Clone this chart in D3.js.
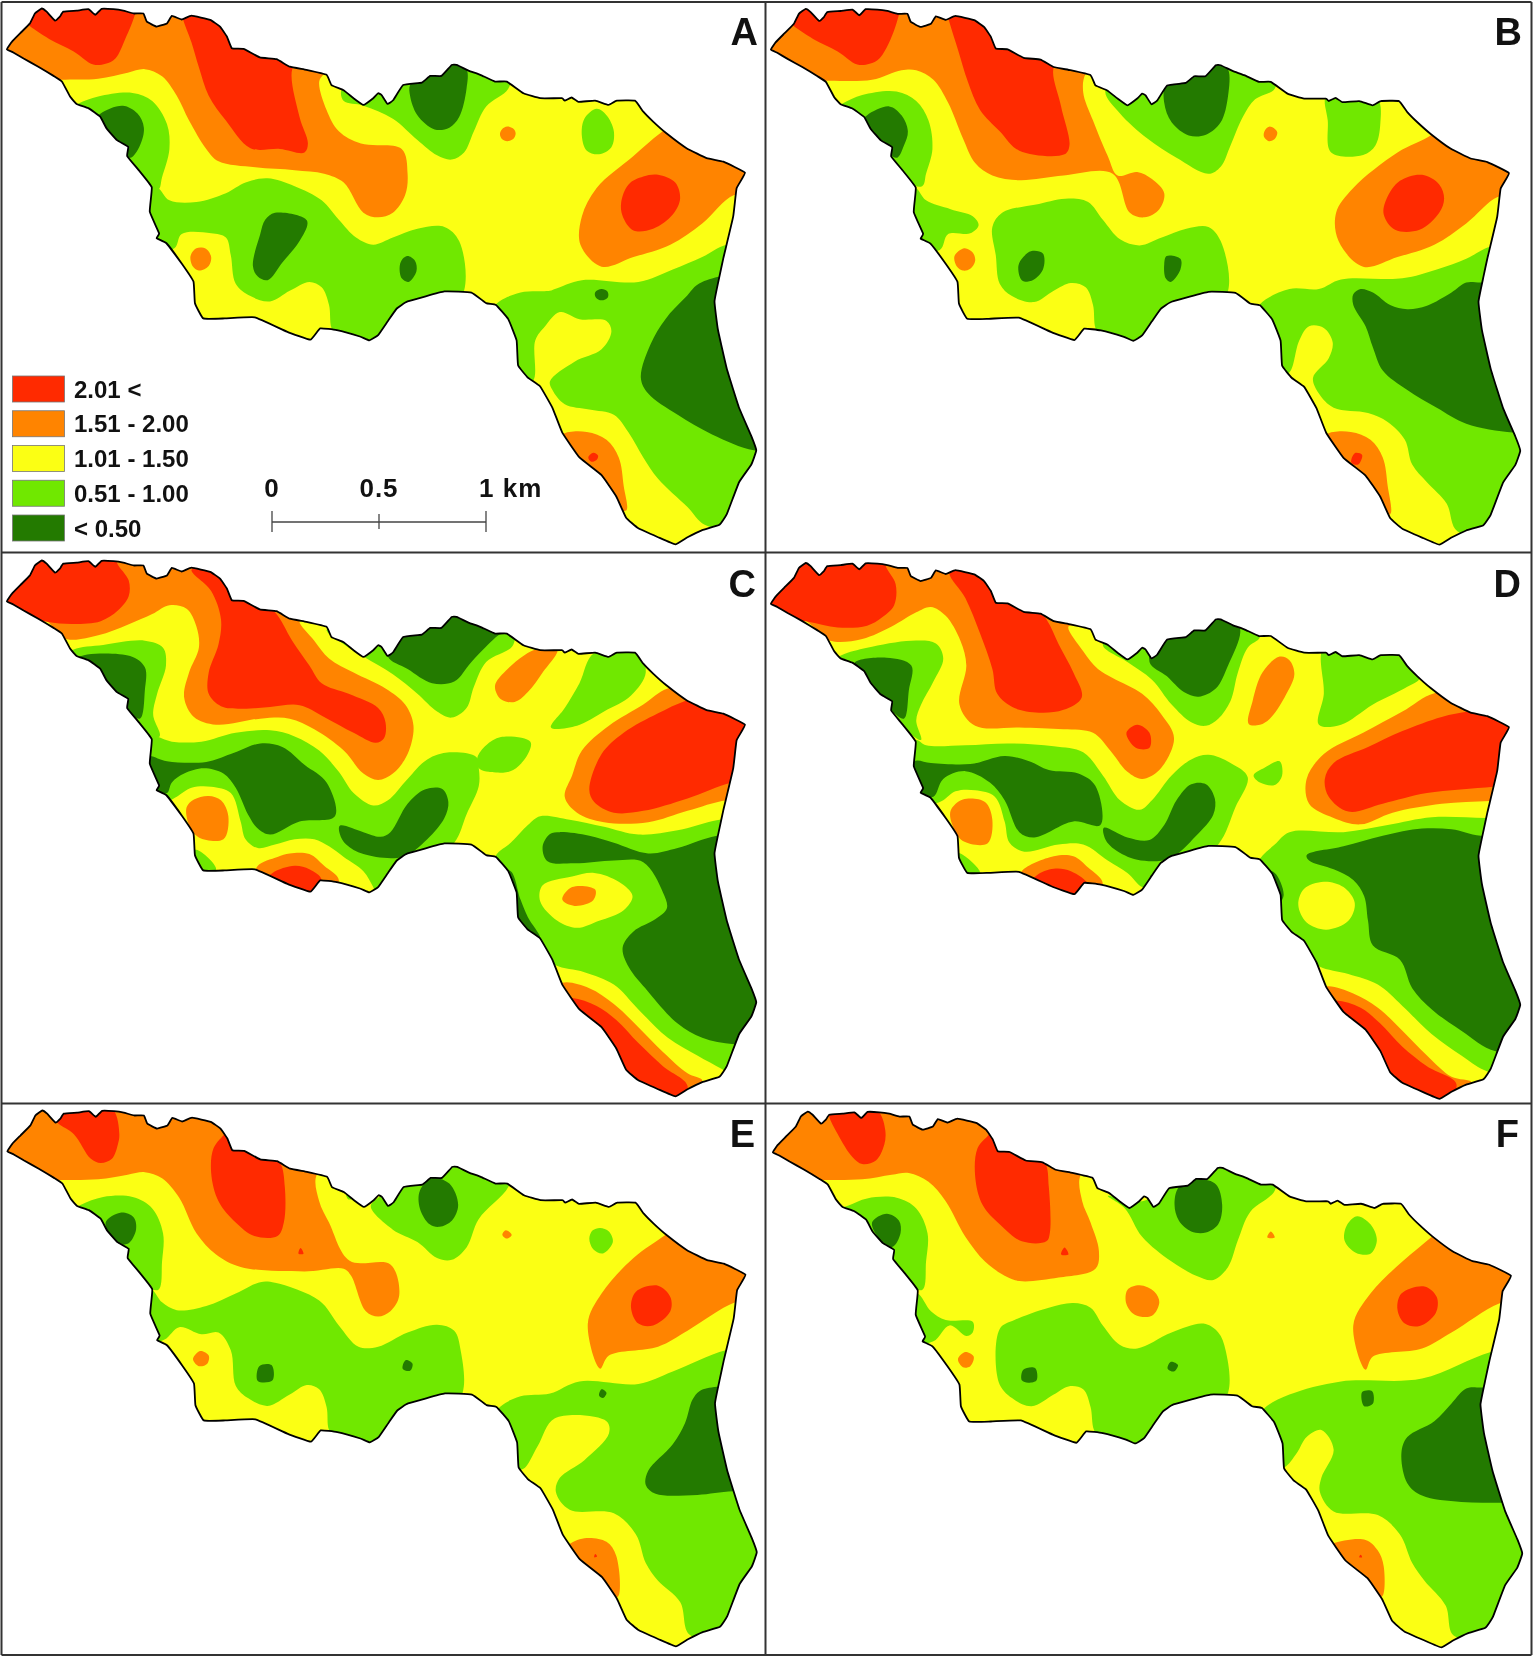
<!DOCTYPE html>
<html><head><meta charset="utf-8">
<script src="https://cdn.jsdelivr.net/npm/d3@7"></script>
<style>html,body{margin:0;padding:0;background:#fff}svg{display:block;filter:blur(.4px)}text{font-family:"Liberation Sans",Arial,sans-serif;font-weight:bold;fill:#111}</style>
</head><body><div id="c"></div>
<script>
const classLabels=["2.01 <","1.51 - 2.00","1.01 - 1.50","0.51 - 1.00","< 0.50"];
const classColors=["#ff2a00","#ff8400","#fbff14","#70e800","#237a00"];
const scaleTicks=[0,0.5,1];
const scaleTickLabels=["0","0.5","1 km"];
const panelLabels=["A","B","C","D","E","F"];
const panelLabelX=[758,758,756,757,755,755];

const outline=[[14,139],[24,118],[41,94],[61,66],[71,38],[85,24],[95,33],[112,58],[122,47],[129,33],[156,30],[180,26],[194,42],[207,25],[231,26],[251,30],[272,38],[292,38],[299,61],[319,75],[340,66],[350,45],[370,55],[390,44],[428,56],[448,75],[462,103],[472,136],[496,138],[529,162],[563,167],[590,188],[624,197],[665,211],[675,240],[699,254],[720,277],[740,296],[760,277],[770,263],[777,268],[789,293],[801,282],[821,240],[859,233],[876,214],[899,214],[920,183],[930,183],[954,199],[978,211],[1008,230],[1032,230],[1066,263],[1100,277],[1144,277],[1150,284],[1164,275],[1178,287],[1212,284],[1239,296],[1256,284],[1293,284],[1310,315],[1330,343],[1357,376],[1398,418],[1439,446],[1473,456],[1517,487],[1500,531],[1493,611],[1473,728],[1465,780],[1455,850],[1462,930],[1480,1040],[1505,1150],[1530,1230],[1540,1270],[1530,1310],[1505,1360],[1480,1450],[1465,1480],[1430,1495],[1400,1515],[1375,1535],[1340,1515],[1300,1490],[1275,1460],[1255,1400],[1225,1340],[1180,1290],[1145,1220],[1125,1150],[1100,1090],[1075,1065],[1055,1030],[1052,960],[1035,900],[1010,860],[990,855],[960,825],[905,822],[830,850],[808,870],[790,905],[770,945],[752,960],[733,949],[686,931],[652,926],[632,958],[584,935],[519,895],[458,898],[414,898],[397,855],[394,794],[370,743],[339,686],[319,672],[324,658],[305,597],[309,528],[282,479],[259,440],[261,414],[238,395],[217,362],[204,329],[180,305],[156,293],[143,273],[126,230],[109,214],[78,188],[48,165],[27,148]];

const A_orange=[
[[-10,140],[60,-10],[700,150],[660,208],[650,230],[665,310],[690,370],[735,405],[818,420],[830,490],[825,550],[800,600],[770,613],[740,600],[700,515],[660,490],[600,480],[520,472],[445,455],[420,420],[385,340],[360,270],[330,215],[295,195],[260,205],[200,222],[125,225],[90,230],[20,170]],
[[1345,375],[1290,440],[1215,530],[1185,610],[1182,690],[1225,752],[1290,725],[1365,690],[1430,630],[1495,550],[1550,550],[1550,470],[1400,330]],
[[1033,357],[1047,365],[1050,378],[1045,392],[1033,398],[1022,392],[1018,378],[1022,365]],
[[400,700],[420,702],[430,725],[425,750],[405,763],[392,750],[388,722]],
[[1145,1225],[1195,1218],[1235,1240],[1260,1290],[1270,1370],[1275,1440],[1240,1420],[1180,1330],[1130,1260]]];
const A_red=[
[[55,68],[100,110],[150,145],[190,182],[215,180],[235,165],[255,110],[275,40],[280,0],[70,0],[40,50]],
[[372,50],[390,120],[405,190],[425,270],[460,340],[510,418],[570,420],[620,430],[627,405],[610,330],[595,195],[620,150],[440,30],[370,20]],
[[1340,493],[1375,515],[1385,560],[1370,605],[1330,645],[1290,650],[1268,610],[1265,570],[1280,520],[1310,498]],
[[1208,1277],[1218,1285],[1214,1298],[1204,1302],[1198,1290]]];
const A_green=[
[[695,255],[700,285],[740,298],[800,335],[850,395],[890,438],[920,450],[945,430],[965,370],[990,300],[1035,250],[1040,190],[900,150],[720,220]],
[[1215,307],[1235,325],[1250,370],[1245,415],[1220,435],[1195,425],[1185,385],[1190,335]],
[[160,292],[200,272],[270,262],[310,285],[340,350],[345,420],[330,500],[322,535],[270,500],[190,380],[140,310]],
[[320,530],[345,565],[400,570],[460,545],[500,515],[545,503],[600,525],[655,565],[690,620],[725,670],[760,690],[800,670],[850,645],[905,640],[935,680],[945,820],[900,900],[770,985],[740,990],[690,960],[675,925],[670,860],[655,810],[630,795],[590,820],[550,850],[510,835],[480,800],[470,720],[460,670],[430,658],[370,660],[355,700],[300,700],[290,560]],
[[1010,858],[1060,825],[1120,820],[1130,815],[1185,790],[1300,795],[1370,760],[1430,725],[1480,690],[1560,690],[1560,1300],[1500,1490],[1435,1480],[1400,1430],[1340,1350],[1310,1290],[1280,1220],[1250,1170],[1200,1155],[1150,1140],[1125,1100],[1120,1075],[1170,1020],[1225,985],[1245,935],[1235,905],[1180,900],[1140,880],[1110,920],[1090,960],[1085,1075],[1050,1080],[1000,900]]];
const A_dark=[
[[835,240],[835,270],[850,325],[885,365],[915,360],[935,330],[950,250],[950,195],[925,170],[860,200]],
[[205,320],[250,298],[280,320],[293,360],[285,410],[265,445],[240,420],[195,340]],
[[560,600],[625,622],[610,680],[575,740],[545,790],[525,780],[515,750],[530,660],[540,620]],
[[830,722],[845,735],[848,765],[832,795],[818,785],[814,750],[820,730]],
[[1430,795],[1395,840],[1355,900],[1325,970],[1305,1065],[1320,1110],[1380,1170],[1450,1225],[1535,1270],[1600,1270],[1600,790]],
[[1225,815],[1237,822],[1238,838],[1225,847],[1213,838],[1212,824]]];

const B_orange=[
[[-10,140],[60,-10],[700,150],[655,208],[650,260],[670,340],[700,440],[720,495],[760,485],[790,505],[815,545],[805,590],[775,613],[745,600],[710,490],[610,495],[520,508],[465,495],[430,460],[405,390],[375,290],[345,225],[310,198],[280,198],[220,225],[125,228],[90,230],[20,170]],
[[1360,380],[1290,430],[1200,530],[1165,600],[1170,680],[1220,752],[1290,725],[1365,690],[1430,630],[1495,555],[1550,550],[1550,470],[1400,330]],
[[1030,357],[1045,372],[1040,392],[1028,398],[1018,385],[1020,368]],
[[408,700],[425,712],[430,735],[420,758],[405,763],[392,750],[388,722]],
[[1145,1225],[1195,1218],[1235,1240],[1260,1290],[1270,1370],[1275,1450],[1240,1420],[1180,1330],[1130,1260]]];
const B_red=[
[[55,68],[100,110],[150,145],[190,182],[215,180],[235,165],[258,110],[275,40],[280,0],[70,0],[40,50]],
[[375,50],[395,140],[415,230],[440,310],[480,370],[520,425],[612,435],[622,410],[605,300],[590,190],[620,150],[440,30],[370,20]],
[[1340,493],[1375,520],[1385,560],[1375,600],[1335,648],[1285,648],[1262,605],[1268,560],[1295,510]],
[[1203,1278],[1218,1283],[1210,1310],[1196,1304]]];
const B_green=[
[[695,258],[725,320],[780,390],[840,445],[905,490],[930,470],[950,410],[975,330],[1000,280],[1040,250],[1040,190],[900,150],[720,220]],
[[1145,270],[1148,340],[1155,430],[1220,437],[1245,410],[1255,350],[1250,280],[1200,260]],
[[160,292],[200,268],[270,258],[310,285],[335,340],[343,420],[330,490],[322,525],[270,500],[190,380],[140,310]],
[[308,530],[330,565],[380,590],[425,610],[437,635],[420,658],[375,660],[358,705],[300,700],[290,560]],
[[465,640],[485,600],[560,575],[620,560],[660,570],[690,620],[725,675],[765,692],[810,670],[860,645],[905,640],[930,680],[945,820],[900,900],[770,985],[740,990],[690,960],[675,925],[670,860],[655,810],[625,798],[590,820],[550,852],[505,835],[480,800],[472,720]],
[[1010,858],[1070,815],[1130,815],[1175,788],[1300,785],[1370,760],[1430,730],[1480,695],[1560,690],[1560,1300],[1500,1500],[1412,1498],[1390,1420],[1350,1360],[1320,1310],[1305,1240],[1270,1190],[1230,1165],[1160,1150],[1130,1110],[1118,1065],[1150,1010],[1158,965],[1140,925],[1110,920],[1090,960],[1070,1050],[1050,1060],[1000,900]]];
const B_dark=[
[[818,240],[815,290],[830,345],[865,382],[900,380],[930,345],[945,270],[945,195],[925,170],[860,200]],
[[210,325],[255,300],[280,325],[293,370],[285,410],[270,445],[240,410],[200,345]],
[[545,708],[568,715],[568,760],[545,792],[525,790],[518,750],[528,725]],
[[820,722],[848,730],[848,760],[828,795],[818,785],[815,745]],
[[1215,815],[1240,825],[1275,860],[1310,872],[1350,862],[1400,825],[1430,797],[1460,797],[1600,800],[1600,1220],[1525,1220],[1430,1195],[1370,1150],[1310,1100],[1260,1045],[1240,980],[1225,920],[1200,860],[1200,830]]];

const C_orange=[
[[135,245],[200,235],[260,205],[310,175],[345,150],[380,160],[400,210],[405,270],[385,340],[375,410],[395,465],[440,487],[530,470],[590,470],[640,500],[700,560],[740,625],[770,643],[800,625],[830,570],[842,490],[825,430],[785,385],[720,340],[670,300],[640,250],[610,195],[660,205],[560,110],[400,20],[230,0],[60,150],[100,200]],
[[1090,275],[1135,275],[1105,340],[1075,395],[1048,423],[1020,415],[1008,378],[1030,335]],
[[1360,385],[1310,430],[1240,490],[1185,560],[1165,630],[1150,690],[1175,735],[1230,762],[1320,762],[1400,730],[1480,700],[1560,700],[1560,470],[1450,380]],
[[1145,1215],[1200,1230],[1250,1275],[1300,1340],[1350,1410],[1400,1470],[1430,1490],[1410,1520],[1380,1560],[1250,1450],[1120,1250]],
[[425,688],[450,700],[465,745],[455,810],[405,805],[385,770],[380,720],[395,698]],
[[525,885],[565,860],[590,850],[630,852],[660,885],[690,925],[660,990],[630,990],[520,925]]];
const C_red=[
[[-10,135],[70,-10],[235,0],[238,30],[262,80],[262,125],[240,165],[205,195],[150,203],[95,197],[20,170]],
[[390,50],[430,110],[450,190],[445,260],[425,340],[425,400],[450,435],[490,442],[550,437],[610,432],[660,465],[720,510],[765,538],[782,525],[785,480],[770,440],[710,400],[655,370],[630,320],[595,250],[560,170],[520,130],[450,40]],
[[1395,420],[1340,455],[1270,510],[1225,570],[1200,670],[1210,705],[1250,735],[1310,730],[1400,695],[1490,650],[1560,640],[1560,470],[1450,400]],
[[1165,1258],[1215,1280],[1255,1320],[1300,1385],[1350,1450],[1400,1505],[1380,1560],[1250,1450],[1130,1260]],
[[555,905],[600,885],[630,895],[655,925],[630,990],[540,930]]];
const C_green=[
[[150,275],[210,262],[295,250],[332,270],[338,320],[320,400],[312,460],[325,520],[270,500],[190,380],[130,300]],
[[665,220],[700,260],[740,295],[800,345],[850,400],[890,450],[920,467],[950,440],[965,380],[990,310],[1045,262],[1040,190],[900,150],[720,210]],
[[1210,285],[1300,285],[1315,340],[1285,405],[1230,450],[1175,490],[1122,495],[1150,440],[1180,370]],
[[1020,522],[1080,535],[1075,570],[1045,615],[1010,622],[975,610],[972,580],[990,545]],
[[1010,855],[1040,820],[1075,770],[1100,745],[1160,755],[1230,775],[1300,797],[1380,785],[1465,755],[1560,750],[1560,1400],[1500,1480],[1470,1458],[1420,1420],[1360,1370],[1300,1290],[1250,1220],[1190,1185],[1130,1165],[1090,1120],[1000,900]],
[[308,520],[350,535],[410,535],[480,510],[550,503],[600,520],[650,560],[690,620],[720,680],[760,715],[790,700],[830,640],[870,585],[915,565],[970,578],[975,610],[975,660],[950,740],[925,820],[850,900],[770,975],[760,945],[740,900],[700,860],[670,830],[640,810],[600,810],[560,825],[525,835],[500,810],[490,760],[470,680],[430,662],[390,665],[360,690],[345,700],[300,700],[280,560]],
[[400,840],[440,895],[400,910],[380,850]]];
const C_dark=[
[[790,295],[830,330],[880,370],[925,365],[960,310],[1015,235],[1030,225],[960,170],[920,170],[810,220]],
[[160,298],[265,293],[295,325],[295,390],[285,470],[255,440],[200,350]],
[[1105,830],[1120,795],[1140,790],[1200,800],[1250,820],[1320,850],[1380,835],[1460,800],[1600,790],[1600,1380],[1495,1388],[1430,1370],[1380,1330],[1320,1240],[1280,1170],[1268,1115],[1290,1070],[1335,1035],[1358,1005],[1350,960],[1310,875],[1250,870],[1170,878],[1115,872]],
[[1040,900],[1060,980],[1075,1030],[1100,1090],[1080,1090],[1030,1000],[1020,900]],
[[305,575],[340,590],[420,592],[470,570],[530,540],[575,550],[620,600],[665,650],[682,745],[610,760],[550,797],[525,780],[505,740],[480,665],[455,625],[415,610],[375,625],[350,650],[340,680],[320,672],[280,650],[280,580]],
[[692,772],[740,790],[775,803],[795,790],[830,710],[865,670],[900,668],[913,705],[905,750],[870,810],[820,860],[740,852],[705,825],[692,795]]];
const C_yellow=[[[1165,915],[1210,905],[1260,930],[1288,970],[1270,1010],[1220,1040],[1175,1060],[1135,1040],[1100,985],[1105,940]]];
const C_orangeTop=[[[1165,945],[1212,952],[1208,982],[1170,998],[1145,980]]];

const D_orange=[
[[135,250],[200,245],[260,210],[310,170],[340,155],[370,180],[400,250],[412,320],[398,430],[430,490],[520,495],[610,500],[670,510],[705,560],[740,620],[770,640],[805,615],[835,525],[810,460],[770,400],[710,355],[680,330],[650,280],[620,210],[660,210],[560,110],[400,20],[230,0],[60,150],[100,210]],
[[1050,295],[1070,305],[1080,345],[1060,410],[1030,470],[1010,487],[987,485],[995,420],[1015,340]],
[[1365,398],[1300,450],[1220,510],[1140,570],[1105,640],[1110,710],[1160,750],[1215,768],[1280,735],[1380,710],[1478,702],[1560,700],[1560,470],[1450,400]],
[[1145,1225],[1200,1245],[1250,1285],[1300,1350],[1350,1420],[1400,1480],[1440,1495],[1410,1530],[1380,1570],[1250,1450],[1120,1250]],
[[405,698],[450,705],[465,755],[455,822],[405,815],[385,775],[380,730]],
[[525,900],[590,858],[630,858],[660,890],[690,935],[660,1000],[630,1000],[520,935]]];
const D_red=[
[[-10,145],[70,-10],[245,10],[248,40],[268,90],[265,150],[240,185],[210,208],[150,213],[90,197],[20,180]],
[[378,55],[410,130],[440,230],[465,330],[475,400],[510,440],[560,453],[610,445],[647,410],[630,340],[600,260],[575,190],[530,120],[450,40]],
[[760,487],[785,510],[785,552],[757,552],[738,510]],
[[1435,450],[1380,465],[1300,505],[1230,550],[1160,595],[1142,640],[1150,690],[1190,732],[1260,710],[1350,680],[1485,662],[1560,650],[1560,470],[1500,440]],
[[1165,1265],[1215,1285],[1255,1330],[1300,1395],[1350,1450],[1410,1500],[1380,1570],[1250,1450],[1130,1270]],
[[555,912],[590,893],[625,900],[660,940],[630,1000],[540,945]]];
const D_green=[
[[690,262],[740,310],[790,360],[830,430],[870,480],[900,490],[925,470],[950,420],[965,340],[985,270],[1010,240],[1000,190],[900,150],[720,220]],
[[1140,270],[1140,400],[1130,487],[1175,487],[1240,430],[1310,380],[1335,355],[1300,280],[1220,270]],
[[1010,865],[1040,825],[1070,790],[1180,790],[1270,770],[1360,748],[1470,750],[1560,750],[1560,1400],[1500,1470],[1465,1460],[1420,1420],[1360,1360],[1300,1280],[1250,1220],[1190,1190],[1130,1168],[1090,1120],[1000,900]],
[[1050,590],[1055,630],[1040,657],[1010,650],[997,630],[1020,608]],
[[160,290],[210,270],[300,250],[350,258],[365,300],[345,365],[320,430],[310,475],[320,530],[270,480],[190,390],[140,310]],
[[310,530],[330,545],[410,545],[500,540],[590,548],[650,565],[690,630],[725,700],[765,727],[790,700],[830,630],[870,585],[905,572],[950,595],[985,635],[960,720],[925,825],[850,900],[780,945],[770,945],[740,905],[700,870],[650,825],[600,825],[530,845],[500,820],[490,760],[470,690],[430,672],[390,675],[365,700],[345,710],[300,700],[280,560]],
[[400,850],[440,905],[400,915],[385,850]]];
const D_dark=[
[[785,310],[820,350],[855,395],[885,408],[920,385],[945,320],[970,225],[960,180],[920,170],[810,220]],
[[1105,855],[1180,830],[1260,800],[1340,780],[1400,782],[1460,800],[1600,790],[1600,1400],[1490,1408],[1420,1350],[1360,1290],[1320,1230],[1295,1150],[1240,1110],[1230,1040],[1222,970],[1200,925],[1160,895],[1110,870]],
[[1040,905],[1058,970],[1040,1000],[1020,900]],
[[185,312],[250,298],[300,320],[295,390],[285,470],[262,450],[240,410],[200,340]],
[[305,590],[340,595],[420,598],[490,575],[540,590],[580,615],[640,625],[675,660],[685,770],[630,760],[550,805],[520,790],[490,700],[460,650],[410,618],[365,640],[345,690],[320,682],[280,650]],
[[692,778],[740,805],[785,812],[815,770],[840,700],[870,655],[900,655],[918,695],[915,740],[880,800],[825,865],[760,868],[715,840],[695,810]]];
const D_yellow=[[[1140,930],[1180,945],[1203,990],[1190,1040],[1145,1065],[1105,1045],[1088,995],[1100,950]]];

const E_orange=[
[[125,220],[200,218],[260,205],[295,198],[330,215],[365,270],[400,370],[440,430],[490,465],[620,478],[700,470],[715,490],[745,590],[770,605],[795,590],[813,545],[795,458],[712,448],[670,340],[650,280],[645,205],[700,150],[400,0],[60,-10],[-10,140],[60,180],[100,220]],
[[1355,375],[1290,440],[1225,540],[1197,625],[1222,752],[1240,715],[1340,690],[1400,645],[1497,565],[1560,550],[1550,470],[1400,330]],
[[1030,362],[1042,375],[1032,385],[1023,375]],
[[408,702],[425,715],[422,738],[405,745],[393,725]],
[[1155,1250],[1190,1230],[1235,1240],[1255,1280],[1258,1395],[1230,1370],[1180,1310],[1140,1270]]];
const E_red=[
[[90,15],[118,60],[150,90],[185,160],[205,172],[228,160],[240,120],[243,90],[232,25],[200,0],[95,0]],
[[460,85],[435,130],[430,200],[445,280],[480,340],[518,378],[565,378],[578,340],[580,240],[570,170],[530,120],[470,60]],
[[612,412],[618,428],[608,428]],
[[1340,518],[1365,550],[1365,590],[1330,630],[1300,625],[1285,580],[1295,535]],
[[1212,1275],[1216,1282],[1210,1284]]];
const E_green=[
[[165,290],[210,268],[270,268],[310,300],[332,370],[330,450],[322,530],[270,490],[190,380],[140,310]],
[[755,295],[800,360],[850,395],[890,440],[920,445],[950,410],[975,330],[1035,240],[1040,190],[900,160],[820,230],[770,270]],
[[705,262],[720,270],[710,275]],
[[1222,355],[1240,365],[1248,395],[1228,427],[1208,415],[1200,385],[1207,362]],
[[308,530],[330,565],[360,587],[420,575],[480,540],[530,508],[560,510],[650,560],[690,630],[730,690],[770,690],[830,650],[890,628],[925,645],[938,700],[942,820],[900,900],[770,985],[740,990],[690,960],[670,925],[665,860],[650,810],[625,798],[590,825],[545,857],[505,835],[480,800],[470,700],[445,650],[410,655],[365,635],[335,670],[300,680],[285,560]],
[[1018,860],[1060,830],[1120,822],[1180,788],[1300,795],[1370,760],[1478,700],[1560,690],[1560,1300],[1500,1500],[1405,1503],[1385,1410],[1340,1350],[1315,1300],[1295,1220],[1250,1160],[1160,1150],[1132,1100],[1140,1060],[1190,1010],[1240,935],[1235,900],[1130,892],[1095,970],[1065,1035],[1040,1030],[1000,900]]];
const E_dark=[
[[215,340],[245,312],[272,325],[277,360],[260,400],[235,395]],
[[880,215],[915,230],[933,290],[920,335],[895,352],[875,345],[855,300],[855,250]],
[[528,745],[553,742],[555,785],[525,787]],
[[826,728],[840,738],[835,758],[820,752]],
[[1425,815],[1460,803],[1600,800],[1600,1100],[1493,1098],[1420,1108],[1335,1105],[1315,1080],[1320,1040],[1370,965],[1395,905],[1410,840]],
[[1225,810],[1235,820],[1228,835],[1220,828]]];

const F_orange=[
[[125,220],[200,218],[260,205],[295,200],[335,225],[370,280],[410,380],[450,450],[490,490],[520,505],[600,495],[675,470],[682,420],[665,340],[648,280],[645,205],[700,150],[400,0],[60,-10],[-10,140],[60,180],[100,220]],
[[1360,380],[1300,450],[1235,540],[1200,630],[1225,755],[1240,718],[1340,695],[1400,650],[1497,568],[1560,550],[1550,470],[1400,330]],
[[765,517],[795,535],[805,565],[790,603],[755,600],[738,570],[740,530]],
[[1032,365],[1040,382],[1025,382]],
[[410,705],[427,718],[420,745],[405,748],[395,725]],
[[1158,1245],[1225,1235],[1250,1265],[1262,1310],[1258,1395],[1225,1360],[1180,1310],[1140,1260]]];
const F_red=[
[[132,38],[150,90],[180,155],[200,175],[228,165],[245,120],[247,80],[235,30],[200,0],[130,0]],
[[462,85],[435,130],[430,210],[445,290],[480,345],[525,393],[575,393],[582,370],[580,240],[572,170],[530,120],[470,60]],
[[612,410],[620,430],[605,430]],
[[1345,520],[1370,550],[1368,595],[1335,632],[1305,625],[1290,585],[1298,540]],
[[1215,1277],[1218,1284],[1212,1284]]];
const F_green=[
[[172,292],[210,272],[270,270],[310,300],[333,370],[330,450],[322,530],[270,490],[190,380],[140,310]],
[[700,265],[735,300],[770,380],[830,450],[880,490],[915,502],[945,465],[965,390],[990,310],[1040,250],[1040,190],[920,170],[830,230],[770,280],[720,270]],
[[1208,322],[1235,345],[1248,390],[1235,428],[1205,425],[1182,390],[1188,345]],
[[312,540],[340,590],[370,615],[425,620],[425,650],[412,660],[378,630],[345,675],[300,680],[290,560]],
[[480,640],[510,615],[580,580],[630,567],[665,580],[690,630],[725,685],[760,695],[830,650],[895,625],[925,650],[940,700],[945,820],[900,900],[770,985],[740,990],[690,960],[672,925],[665,860],[650,810],[620,802],[590,825],[545,858],[505,835],[478,790]],
[[1020,862],[1070,825],[1175,788],[1340,780],[1480,705],[1560,690],[1560,1300],[1500,1500],[1405,1505],[1388,1420],[1345,1350],[1320,1300],[1295,1220],[1250,1165],[1160,1155],[1132,1100],[1135,1060],[1160,980],[1135,925],[1105,945],[1085,990],[1060,1030],[1040,1030],[1000,900]]];
const F_dark=[
[[220,340],[250,315],[275,335],[278,370],[262,408],[240,395]],
[[885,218],[920,232],[933,290],[925,345],[900,368],[870,365],[845,335],[836,290],[845,240]],
[[528,755],[552,750],[555,785],[538,792],[525,785]],
[[828,733],[843,742],[835,760],[822,752]],
[[1465,805],[1430,808],[1400,850],[1365,900],[1310,945],[1298,990],[1310,1075],[1340,1110],[1420,1128],[1503,1130],[1600,1130],[1600,800]],
[[1218,818],[1238,815],[1240,850],[1222,858]]];

const panelLayers=[
 [[1,A_orange],[0,A_red],[3,A_green],[4,A_dark]],
 [[1,B_orange],[0,B_red],[3,B_green],[4,B_dark]],
 [[1,C_orange],[0,C_red],[3,C_green],[4,C_dark],[2,C_yellow],[1,C_orangeTop]],
 [[1,D_orange],[0,D_red],[3,D_green],[4,D_dark],[2,D_yellow]],
 [[1,E_orange],[0,E_red],[3,E_green],[4,E_dark]],
 [[1,F_orange],[0,F_red],[3,F_green],[4,F_dark]]];
const outlineShift=[[0,0],[0,1],[0,0],[0,7],[1,0],[4,3]];

const W=1533,H=1658;
const svg=d3.select("#c").append("svg").attr("width",W).attr("height",H);
const colX=d3.scaleOrdinal().domain([0,1]).range([0,764]);
const rowY=d3.scaleOrdinal().domain([0,1,2]).range([0,552,1102]);
const x=d3.scaleLinear().domain([0,1568]).range([0,770]);
const y=d3.scaleLinear().domain([0,1568]).range([0,556]);
const smooth=d3.line().x(d=>x(d[0])).y(d=>y(d[1])).curve(d3.curveCatmullRomClosed.alpha(0.5));
const coast=d3.line().x(d=>x(d[0])).y(d=>y(d[1])).curve(d3.curveCardinalClosed.tension(0.7));

panelLabels.forEach((lab,i)=>{
  const g=svg.append("g").attr("transform",`translate(${colX(i%2)},${rowY(Math.floor(i/2))})`);
  const [sx,sy]=outlineShift[i];
  const moved=outline.map(p=>[p[0]+sx,p[1]+sy]);
  g.append("clipPath").attr("id","clip"+lab).append("path").attr("d",coast(moved));
  const m=g.append("g").attr("clip-path",`url(#clip${lab})`);
  m.append("path").attr("d",coast(moved)).attr("fill",classColors[2]);
  panelLayers[i].forEach(([cls,polys])=>{
    m.selectAll(null).data(polys).join("path").attr("d",smooth).attr("fill",classColors[cls]);
  });
  g.append("path").attr("d",coast(moved)).attr("fill","none").attr("stroke","#000").attr("stroke-width",1.8).attr("stroke-linejoin","round");
  g.append("text").attr("x",panelLabelX[i]).attr("y",45).attr("text-anchor","end").attr("font-size",38).text(lab);
});

// frame
[[1.5,2,1531.5,2],[1.5,552.5,1531.5,552.5],[1.5,1103.5,1531.5,1103.5],[1.5,1655,1531.5,1655],[1.5,2,1.5,1655],[765.5,2,765.5,1655],[1531.5,2,1531.5,1655]].forEach(l=>{
  svg.append("line").attr("x1",l[0]).attr("y1",l[1]).attr("x2",l[2]).attr("y2",l[3]).attr("stroke","#333").attr("stroke-width",2);
});

// legend
const legY=d3.scalePoint().domain(classLabels).range([376,515]);
const leg=svg.append("g");
leg.selectAll("rect").data(classLabels).join("rect").attr("x",12.5).attr("y",d=>legY(d)).attr("width",52).attr("height",26)
  .attr("fill",(d,i)=>classColors[i]).attr("stroke","#777").attr("stroke-width",.8);
leg.selectAll("text").data(classLabels).join("text").attr("x",74).attr("y",d=>legY(d)+21.5).attr("font-size",24).text(d=>d);

// scale bar
const km=d3.scaleLinear().domain([0,1]).range([272,486]);
const sb=svg.append("g");
sb.append("line").attr("x1",km(0)).attr("x2",km(1)).attr("y1",522).attr("y2",522).attr("stroke","#444").attr("stroke-width",1.3);
sb.selectAll("line.t").data(scaleTicks).join("line").attr("class","t").attr("x1",d=>km(d)).attr("x2",d=>km(d))
  .attr("y1",d=>d===0.5?514:511).attr("y2",d=>d===0.5?529:532).attr("stroke","#444").attr("stroke-width",1.3);
sb.selectAll("text").data(scaleTicks).join("text").attr("x",(d,i)=>i===2?km(d)-7:km(d)).attr("y",497)
  .attr("text-anchor",(d,i)=>i===2?"start":"middle").attr("font-size",26).attr("letter-spacing",1).text((d,i)=>scaleTickLabels[i]);
</script></body></html>
